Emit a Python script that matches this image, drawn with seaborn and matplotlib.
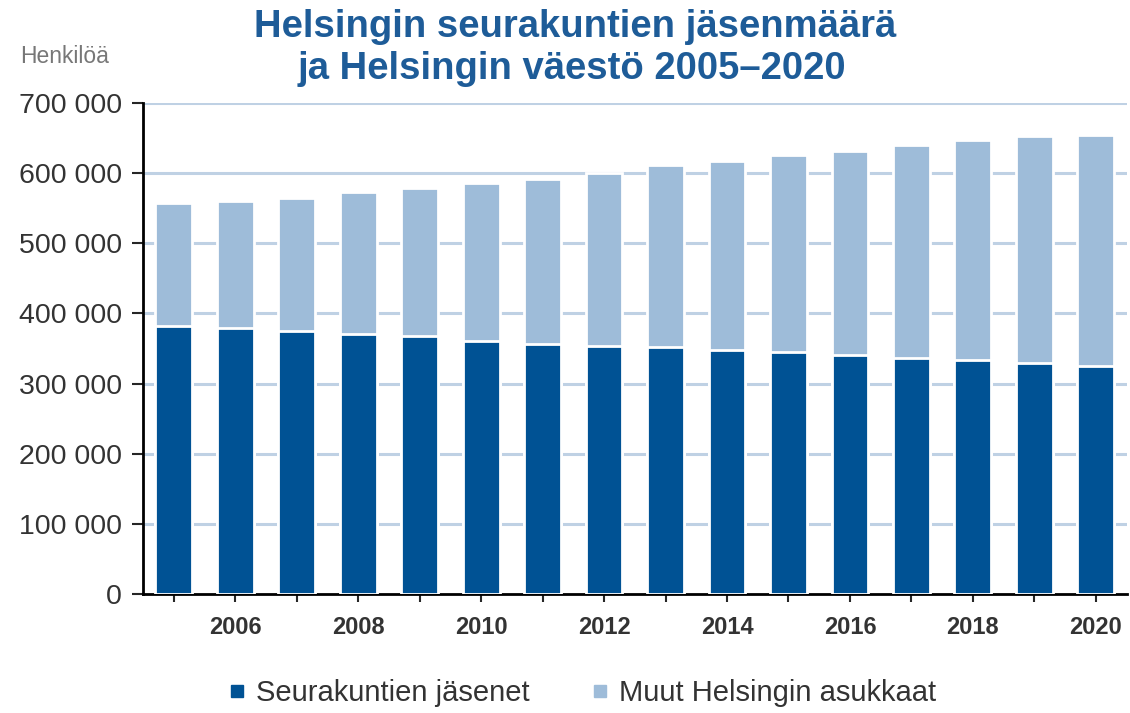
import pandas as pd
import matplotlib.pyplot as plt
import seaborn as sns
from matplotlib.ticker import FuncFormatter
from matplotlib.lines import Line2D

# Data
years = list(range(2005, 2021))
members = [382000, 379000, 375000, 371000, 368000, 361000, 356000, 354000,
           352000, 348000, 345000, 341000, 337000, 333000, 329000, 325000]
population = [557000, 560000, 565000, 573000, 579000, 586000, 592000, 600000,
              612000, 617000, 626000, 632000, 640000, 647000, 653000, 655000]

df = pd.DataFrame({'year': years, 'members': members, 'total': population})

dark = '#005294'
light = '#9EBCD9'
grid_col = '#BFD1E4'
title_col = '#1E5C98'

sns.set_style('white')
plt.rcParams['font.family'] = ['Liberation Sans', 'DejaVu Sans']

fig = plt.figure(figsize=(11.3, 7.13), dpi=100)
ax = fig.add_axes([0.1265, 0.167, 0.8705, 0.6885])

ax.set_axisbelow(True)
for v in range(100000, 700001, 100000):
    ax.axhline(v, color=grid_col, lw=2.2, zorder=0)

# stacked bars: total population behind, members in front
sns.barplot(data=df, x='year', y='total', color=light, width=0.6,
            edgecolor='white', linewidth=2, saturation=1, ax=ax, zorder=2)
sns.barplot(data=df, x='year', y='members', color=dark, width=0.6,
            edgecolor='white', linewidth=2, saturation=1, ax=ax, zorder=3)

ax.set_xlim(-0.5, 15.5)
ax.set_ylim(0, 700000)
ax.set_yticks(range(0, 700001, 100000))
ax.yaxis.set_major_formatter(FuncFormatter(lambda v, p: f'{int(v):,}'.replace(',', ' ')))
ax.set_xticks(range(len(years)))
ax.set_xticklabels([str(y) if y % 2 == 0 else '' for y in years])
ax.tick_params(axis='y', direction='out', length=8, width=1.5, labelsize=20.5,
               labelcolor='#333333', pad=7, left=True)
ax.tick_params(axis='x', direction='out', length=6, width=1.5, labelsize=17,
               labelcolor='#333333', pad=10, bottom=True)
for lbl in ax.get_xticklabels():
    lbl.set_fontweight('bold')
ax.set_xlabel('')
ax.set_ylabel('')

for s in ['top', 'right']:
    ax.spines[s].set_visible(False)
for s in ['left', 'bottom']:
    ax.spines[s].set_color('black')
    ax.spines[s].set_linewidth(2)

fig.text(0.509, 0.962, 'Helsingin seurakuntien jäsenmäärä', ha='center', va='center',
         fontsize=27.5, fontweight='bold', color=title_col)
fig.text(0.506, 0.903, 'ja Helsingin väestö 2005–2020', ha='center', va='center',
         fontsize=27.5, fontweight='bold', color=title_col)
fig.text(0.057, 0.921, 'Henkilöä', ha='center', va='center', fontsize=16.5, color='#777777')

handles = [Line2D([], [], marker='s', ls='', color=dark, markersize=9),
           Line2D([], [], marker='s', ls='', color=light, markersize=9)]
fig.legend(handles, ['Seurakuntien jäsenet', 'Muut Helsingin asukkaat'],
           loc='center', bbox_to_anchor=(0.514, 0.028), ncol=2, frameon=False,
           fontsize=21, handletextpad=0.25, columnspacing=2.0, handlelength=0.8,
           labelcolor='#333333')

fig.savefig('out.png', dpi=100)
